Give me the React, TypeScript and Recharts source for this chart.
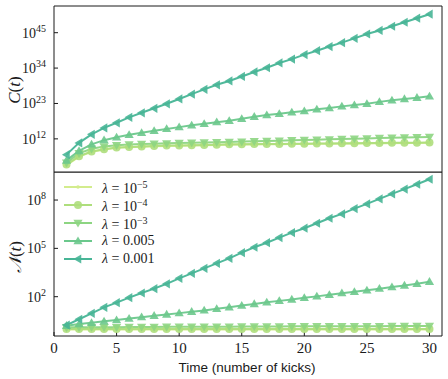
import { LineChart, Line, XAxis, YAxis, Legend } from "recharts";

const times = [1, 2, 3, 4, 5, 6, 7, 8, 9, 10, 11, 12, 13, 14, 15, 16, 17, 18, 19, 20, 21, 22, 23, 24, 25, 26, 27, 28, 29, 30];
const xTicks = [0, 5, 10, 15, 20, 25, 30];
const topTickExps = [12, 23, 34, 45];
const bottomTickExps = [2, 5, 8];

// log10 of C(t)
const cLam1e5 = [3.8, 6.5, 8.0, 8.7, 9.2, 9.4, 9.55, 9.7, 9.8, 9.85, 9.95, 10.0, 10.1, 10.2, 10.23, 10.27, 10.3, 10.34, 10.38, 10.42, 10.45, 10.49, 10.52, 10.56, 10.59, 10.62, 10.66, 10.7, 10.73, 10.77];
const cLam1e4 = [4.0, 6.6, 8.1, 8.8, 9.3, 9.5, 9.65, 9.8, 9.9, 9.95, 10.05, 10.1, 10.2, 10.3, 10.33, 10.37, 10.4, 10.44, 10.48, 10.52, 10.55, 10.59, 10.62, 10.66, 10.69, 10.72, 10.76, 10.8, 10.83, 10.87];
const cLam1e3 = [4.6, 7.5, 8.9, 9.6, 10.0, 10.25, 10.4, 10.5, 10.6, 10.7, 10.8, 10.9, 10.97, 11.05, 11.15, 11.25, 11.35, 11.45, 11.55, 11.65, 11.75, 11.85, 11.95, 12.05, 12.15, 12.25, 12.35, 12.45, 12.52, 12.6];
const cLam005 = [5.3, 8.25, 10.3, 11.6, 12.5, 13.25, 13.9, 14.5, 15.1, 15.65, 16.2, 16.7, 17.2, 17.6, 18.25, 18.9, 19.4, 19.8, 20.25, 20.65, 21.2, 21.6, 22.1, 22.5, 22.9, 23.5, 24.0, 24.4, 24.8, 25.25];
const cLam001 = [7.1, 10.75, 13.4, 15.4, 17.0, 18.7, 20.1, 21.5, 22.9, 24.4, 25.9, 27.4, 28.8, 30.0, 31.4, 32.8, 34.1, 35.6, 36.8, 38.2, 39.4, 40.7, 41.9, 43.25, 44.6, 45.7, 47.0, 48.25, 49.5, 50.75];

// log10 of N(t)
const nLam1e5 = [-0.03, -0.03, -0.03, -0.03, -0.03, -0.03, -0.03, -0.03, -0.03, -0.03, -0.03, -0.03, -0.03, -0.03, -0.03, -0.03, -0.03, -0.03, -0.03, -0.03, -0.03, -0.03, -0.03, -0.03, -0.03, -0.03, -0.03, -0.03, -0.03, -0.03];
const nLam1e4 = [0.0, 0.0, 0.0, 0.0, 0.0, 0.0, 0.0, 0.0, 0.0, 0.0, 0.0, 0.0, 0.0, 0.0, 0.0, 0.0, 0.0, 0.0, 0.0, 0.0, 0.0, 0.0, 0.0, 0.0, 0.0, 0.0, 0.0, 0.0, 0.0, 0.0];
const nLam1e3 = [0.1, 0.1, 0.11, 0.11, 0.11, 0.12, 0.12, 0.12, 0.13, 0.13, 0.13, 0.14, 0.14, 0.14, 0.15, 0.15, 0.15, 0.15, 0.16, 0.16, 0.16, 0.16, 0.17, 0.17, 0.17, 0.17, 0.18, 0.18, 0.18, 0.18];
const nLam005 = [0.2, 0.3, 0.38, 0.47, 0.55, 0.64, 0.73, 0.82, 0.9, 0.98, 1.07, 1.15, 1.25, 1.35, 1.45, 1.55, 1.65, 1.74, 1.83, 1.93, 2.02, 2.12, 2.22, 2.3, 2.4, 2.5, 2.6, 2.7, 2.8, 2.93];
const nLam001 = [0.24, 0.6, 0.97, 1.34, 1.63, 1.94, 2.23, 2.5, 2.8, 3.14, 3.45, 3.76, 4.07, 4.38, 4.73, 5.07, 5.35, 5.67, 5.98, 6.25, 6.56, 6.87, 7.14, 7.47, 7.76, 8.07, 8.38, 8.68, 8.98, 9.29];

const SERIF = "'Liberation Serif', 'DejaVu Serif', serif";
const SANS = "'Liberation Sans', Arial, sans-serif";
const INK = "#1a1a1a";

type Kind = "dot" | "circle" | "down" | "up" | "left";

const series: { key: string; kind: Kind; color: string; label: string; sup: boolean; c: number[]; n: number[] }[] = [
  { key: "l1e5", kind: "dot", color: "#d3ec8d", label: "\u22125", sup: true, c: cLam1e5, n: nLam1e5 },
  { key: "l1e4", kind: "circle", color: "#aede7c", label: "\u22124", sup: true, c: cLam1e4, n: nLam1e4 },
  { key: "l1e3", kind: "down", color: "#8dd582", label: "\u22123", sup: true, c: cLam1e3, n: nLam1e3 },
  { key: "l005", kind: "up", color: "#6bc88c", label: "0.005", sup: false, c: cLam005, n: nLam005 },
  { key: "l001", kind: "left", color: "#47b596", label: "0.001", sup: false, c: cLam001, n: nLam001 },
];

const topData = times.map((t, i) => {
  const row: Record<string, number> = { t };
  series.forEach((s) => (row[s.key] = Math.pow(10, s.c[i])));
  return row;
});
const bottomData = times.map((t, i) => {
  const row: Record<string, number> = { t };
  series.forEach((s) => (row[s.key] = Math.pow(10, s.n[i])));
  return row;
});

function Marker({ kind, cx, cy, color }: { kind: Kind; cx: number; cy: number; color: string }) {
  const s = 4.6;
  if (kind === "dot") return <circle cx={cx} cy={cy} r={1.8} fill={color} />;
  if (kind === "circle") return <circle cx={cx} cy={cy} r={4} fill={color} fillOpacity={0.9} />;
  let d = "";
  if (kind === "down") d = `M${cx - s},${cy - s * 0.7} L${cx + s},${cy - s * 0.7} L${cx},${cy + s} Z`;
  if (kind === "up") d = `M${cx - s},${cy + s * 0.7} L${cx + s},${cy + s * 0.7} L${cx},${cy - s} Z`;
  if (kind === "left") d = `M${cx - s},${cy} L${cx + s * 0.7},${cy - s} L${cx + s * 0.7},${cy + s} Z`;
  return <path d={d} fill={color} fillOpacity={0.9} />;
}

const LogTick = (props: any) => {
  const { x, y, payload } = props;
  const exp = Math.round(Math.log10(payload.value));
  return (
    <text x={x} y={y} textAnchor="end" fontFamily={SERIF} fontSize={14} fill={INK}>
      <tspan dy="0.35em">10</tspan>
      <tspan dy="-0.55em" fontSize={10}>{exp}</tspan>
    </text>
  );
};

const AxisTitle = ({ px, py, letter }: { px: number; py: number; letter: string }) => (
  <text x={px} y={py} textAnchor="middle" transform={`rotate(-90 ${px} ${py})`} fontFamily={SERIF} fontSize={17} fill={INK}>
    <tspan fontStyle="italic">{letter}</tspan>(<tspan fontStyle="italic">t</tspan>)
  </text>
);

const XTitle = ({ px, py }: { px: number; py: number }) => (
  <text x={px} y={py} textAnchor="middle" fontFamily={SANS} fontSize={13.5} fill={INK}>
    Time (number of kicks)
  </text>
);

const LegendBox = () => (
  <div style={{ fontFamily: SERIF, fontSize: 14, color: INK, lineHeight: "18px" }}>
    {series.map((s) => (
      <div key={s.key} style={{ display: "flex", alignItems: "center", height: 18 }}>
        <svg width={28} height={18}>
          <line x1={0} y1={9} x2={28} y2={9} stroke={s.color} strokeWidth={2} />
          <Marker kind={s.kind} cx={14} cy={9} color={s.color} />
        </svg>
        <span style={{ marginLeft: 10, whiteSpace: "nowrap" }}>
          <i>λ</i> = {s.sup ? (<>10<sup style={{ fontSize: 10, verticalAlign: 5 }}>{s.label}</sup></>) : s.label}
        </span>
      </div>
    ))}
  </div>
);

const axisLine = { stroke: INK, strokeWidth: 1 };
const tickLine = { stroke: INK, strokeWidth: 1 };

function renderLines() {
  return series.map((s) => (
    <Line
      key={s.key}
      xAxisId="b"
      yAxisId="l"
      type="linear"
      dataKey={s.key}
      stroke={s.color}
      strokeWidth={2}
      strokeOpacity={0.95}
      isAnimationActive={false}
      dot={(p: any) => <Marker key={`${s.key}-${p.index}`} kind={s.kind} cx={p.cx} cy={p.cy} color={s.color} />}
      activeDot={false}
    />
  ));
}

function Frame({ domain, yTicks, showXLabels }: { domain: number[]; yTicks: number[]; showXLabels: boolean }) {
  return [
    <XAxis
      key="xb"
      xAxisId="b"
      dataKey="t"
      type="number"
      domain={[0, 31]}
      ticks={xTicks}
      allowDataOverflow
      height={showXLabels ? 43 : 1}
      tick={showXLabels ? { fontFamily: SERIF, fontSize: 15, fill: INK } : false}
      tickSize={-4}
      tickMargin={showXLabels ? 10 : 0}
      axisLine={axisLine}
      tickLine={tickLine}
      label={showXLabels ? <XTitle px={247} py={200} /> : undefined}
    />,
    <XAxis
      key="xt"
      xAxisId="t"
      orientation="top"
      dataKey="t"
      type="number"
      domain={[0, 31]}
      ticks={xTicks}
      allowDataOverflow
      height={1}
      mirror
      tick={false}
      tickSize={4}
      axisLine={axisLine}
      tickLine={tickLine}
    />,
    <YAxis
      key="yl"
      yAxisId="l"
      scale="log"
      domain={domain}
      ticks={yTicks}
      allowDataOverflow
      width={54}
      tick={<LogTick />}
      tickSize={-4}
      tickMargin={12}
      axisLine={axisLine}
      tickLine={tickLine}
    />,
    <YAxis
      key="yr"
      yAxisId="r"
      orientation="right"
      scale="log"
      domain={domain}
      ticks={yTicks}
      allowDataOverflow
      width={1}
      mirror
      tick={false}
      tickSize={4}
      axisLine={axisLine}
      tickLine={tickLine}
    />,
  ];
}

export default function App() {
  const topDomain = [Math.pow(10, 1.7), Math.pow(10, 53.3)];
  const bottomDomain = [Math.pow(10, -0.44), Math.pow(10, 9.74)];
  return (
    <div style={{ position: "absolute", left: 0, top: 0, width: 448, height: 379, background: "#fff" }}>
      <div style={{ position: "absolute", left: 0, top: 0 }}>
        <LineChart width={448} height={173} data={topData} margin={{ top: 6, right: 6, bottom: 0, left: 0 }}>
          {Frame({ domain: topDomain, yTicks: topTickExps.map((e) => Math.pow(10, e)), showXLabels: false })}
          {renderLines()}
        </LineChart>
      </div>
      <div style={{ position: "absolute", left: 0, top: 172 }}>
        <LineChart width={448} height={207} data={bottomData} margin={{ top: 0, right: 6, bottom: 0, left: 0 }}>
          {Frame({ domain: bottomDomain, yTicks: bottomTickExps.map((e) => Math.pow(10, e)), showXLabels: true })}
          {renderLines()}
          <Legend
            layout="horizontal"
            verticalAlign="middle"
            align="center"
            wrapperStyle={{ left: 64, top: 6, width: "auto" }}
            content={() => <LegendBox />}
          />
        </LineChart>
      </div>
      <svg width={30} height={379} style={{ position: "absolute", left: 0, top: 0 }}>
        <AxisTitle px={20} py={90} letter="C" />
        <AxisTitle px={21} py={257} letter={"\u{1D4A9}"} />
      </svg>
    </div>
  );
}
